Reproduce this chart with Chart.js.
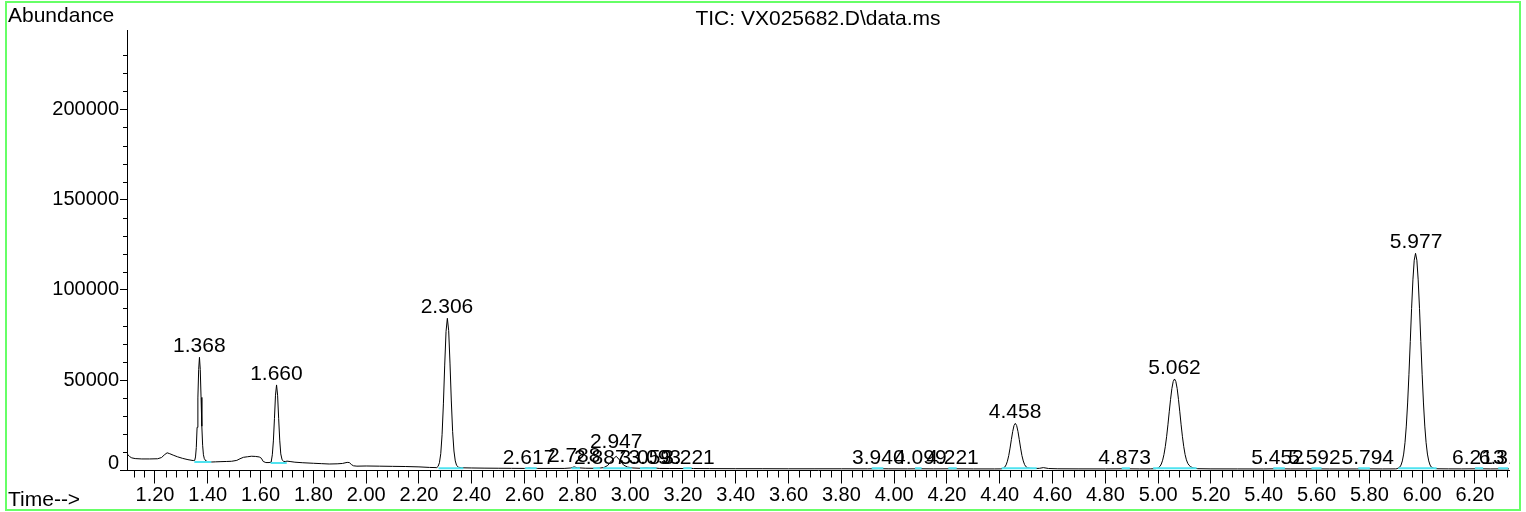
<!DOCTYPE html>
<html><head><meta charset="utf-8">
<script src="https://cdn.jsdelivr.net/npm/chart.js@4"></script>
<style>html,body{margin:0;padding:0;background:#fff;overflow:hidden}canvas{display:block}</style>
</head><body>
<canvas id="c" width="1526" height="512"></canvas>
<script>
const chartTitle = 'TIC: VX025682.D\\data.ms';
const yAxisTitle = 'Abundance';
const xAxisTitle = 'Time-->';

const timeMin = [
1.094,1.098,1.104,1.112,1.125,1.150,1.180,1.210,1.225,1.235,1.246,1.256,1.269,1.285,1.305,1.325,1.345,
1.3505,1.3535,1.3565,1.3595,1.3625,1.3655,1.3685,1.3715,1.3745,1.3775,1.3805,1.3835,1.387,1.393,1.400,
1.415,1.430,1.450,1.470,1.490,1.510,1.522,1.535,1.550,1.565,1.580,1.595,1.603,1.610,1.620,1.632,1.640,
1.6445,1.6485,1.6525,1.6565,1.6605,1.6645,1.6685,1.6725,1.6765,1.6815,1.688,1.695,
1.700,1.715,1.730,1.760,1.800,1.830,1.860,1.890,1.910,1.928,1.936,1.945,1.952,1.965,2.000,2.050,2.100,2.150,2.200,2.240,
2.2675,2.2725,2.2775,2.2825,2.2875,2.2925,2.2975,2.3025,2.3075,2.3125,2.3175,2.3225,2.3275,2.3325,2.3375,2.3425,2.350,2.360,
2.400,2.450,2.500,2.550,2.600,2.610,2.617,2.625,2.650,2.700,2.750,2.775,2.788,2.800,2.830,2.870,2.887,2.900,2.915,2.930,2.947,2.960,2.975,2.990,
3.010,3.040,3.059,3.075,3.093,3.110,3.150,3.200,3.221,3.240,3.300,3.400,3.500,3.600,3.700,3.800,3.900,3.940,3.980,4.050,4.099,4.150,4.221,4.300,4.380,
4.404,4.409,4.414,4.419,4.424,4.429,4.434,4.439,4.444,4.449,4.454,4.459,4.464,4.469,4.474,4.479,4.484,4.489,4.494,4.499,4.505,4.515,4.530,
4.550,4.565,4.585,4.620,4.700,4.800,4.873,4.930,4.970,
4.990,5.000,5.007,5.012,5.017,5.022,5.027,5.032,5.037,5.042,5.047,5.052,5.057,5.062,5.067,5.072,5.077,5.082,5.087,5.092,5.097,5.102,5.107,5.112,5.117,5.122,5.132,5.150,
5.200,5.300,5.400,5.452,5.500,5.592,5.650,5.750,5.794,5.850,5.900,
5.905,5.915,5.920,5.925,5.930,5.935,5.940,5.945,5.950,5.955,5.960,5.965,5.970,5.975,5.980,5.985,5.990,5.995,6.000,6.005,6.010,6.015,6.020,6.025,6.030,6.035,6.045,6.060,
6.100,6.150,6.213,6.260,6.314,6.329
];
const abundance = [
9500,8600,7700,7000,6600,6400,6400,6500,7200,8600,9800,9300,8500,7600,6700,6000,5500,
5600,7500,12800,23900,40200,56000,62700,56000,40500,24500,14000,8700,6500,5300,4900,
4700,4800,4900,5000,5100,5600,6500,7300,7600,7900,7800,7500,6800,5000,4400,4400,4600,
8700,16400,28700,41700,47400,41700,28700,16800,9200,5900,5000,5000,
5200,4900,4600,4300,4000,3800,3600,3700,3900,4500,4400,3200,2600,2400,2500,2400,2300,2200,2000,1700,
1600,2300,4300,9300,19800,36900,58400,77000,84300,77500,59500,38500,21500,10800,5300,2800,1800,1500,
1400,1300,1250,1200,1150,1200,1350,1200,1150,1150,1150,1400,2000,1500,1250,1200,1400,1600,2800,5500,7900,5800,3000,1900,
1400,1200,1400,1250,1400,1150,1100,1100,1250,1100,1050,1000,1000,950,950,950,920,1000,920,900,950,900,950,880,870,
900,1000,1280,1900,3100,5150,8260,12400,17100,21600,24900,26100,24900,21600,17100,12400,8260,5300,3300,2100,1500,1200,1100,
1200,1600,1100,950,900,880,950,870,900,
1000,1300,2300,3600,5700,8850,13200,18700,25300,32500,39400,45400,49300,50700,49300,45400,39400,32500,25300,18700,13200,8850,5900,4000,2900,2200,1400,1000,
900,870,850,950,860,900,850,850,920,860,900,
1000,1850,3000,5300,9100,15400,24600,37400,53300,71400,89700,105600,116500,120300,116500,105600,89700,71400,53300,37400,24600,15400,9100,5300,3000,1850,1100,950,
900,880,950,870,920,880
];

const peakTimes   = [1.368,1.660,2.306,2.617,2.788,2.887,2.947,3.059,3.093,3.221,3.940,4.099,4.221,4.458,4.873,5.062,5.452,5.592,5.794,5.977,6.213,6.314];
const peakLabels  = ['1.368','1.660','2.306','2.617','2.788','2.887','2.947','3.059','3.093','3.221','3.940','4.099','4.221','4.458','4.873','5.062','5.452','5.592','5.794','5.977','6.213','6.314'];
const peakHeights = [62700,47400,84300,1000,1900,700,9500,900,900,1000,1000,1000,1000,26100,1000,50700,1100,1100,1100,120300,1100,1100];

const baseStart = [1.349,1.638,2.274,2.602,2.778,2.860,2.898,3.037,3.201,3.915,4.079,4.205,4.407,4.862,4.981,5.436,5.581,5.758,5.910,6.200,6.288];
const baseEnd   = [1.413,1.699,2.368,2.646,2.810,2.886,3.006,3.100,3.233,3.959,4.104,4.237,4.540,4.893,5.146,5.480,5.619,5.802,6.055,6.231,6.326];
const baseLevel = [4700,4150,1300,1200,1200,1200,1200,1200,1200,1200,1200,1200,1200,1200,1200,1200,1200,1200,1200,1200,1200];

const xTickValues = [1.20,1.40,1.60,1.80,2.00,2.20,2.40,2.60,2.80,3.00,3.20,3.40,3.60,3.80,4.00,4.20,4.40,4.60,4.80,5.00,5.20,5.40,5.60,5.80,6.00,6.20];
const yTickValues = [0,50000,100000,150000,200000];
const xMinorStep = 0.04, xMinorFirst = 1.12, xMinorLast = 6.32;
const yMinorStep = 10000, yMinorLast = 230000;

const FONT = '"Liberation Sans", Arial, Helvetica, sans-serif';

const xMinor = [];
for (let k = 0; xMinorFirst + k * xMinorStep <= xMinorLast + 1e-9; k++) xMinor.push(+(xMinorFirst + k * xMinorStep).toFixed(2));
const yMinor = [];
for (let v = yMinorStep; v <= yMinorLast; v += yMinorStep) if (v % 50000 !== 0) yMinor.push(v);

const deco = {
  id: 'deco',
  afterDraw(chart) {
    const {ctx, chartArea: a, scales: {x, y}} = chart;
    ctx.save();
    ctx.strokeStyle = '#000'; ctx.lineWidth = 1;
    ctx.beginPath();
    xMinor.forEach(t => {
      if (xTickValues.some(m => Math.abs(m - t) < 1e-6)) return;
      const px = Math.round(x.getPixelForValue(t)) + 0.5;
      ctx.moveTo(px, a.bottom); ctx.lineTo(px, a.bottom + 7);
    });
    yMinor.forEach(v => {
      const py = Math.round(y.getPixelForValue(v)) + 0.5;
      ctx.moveTo(a.left - 4, py); ctx.lineTo(a.left, py);
    });
    ctx.stroke();

    ctx.save();
    ctx.beginPath(); ctx.rect(0, 0, a.right + 1, a.bottom); ctx.clip();
    ctx.font = '21px ' + FONT; ctx.fillStyle = '#000';
    ctx.textAlign = 'center'; ctx.textBaseline = 'alphabetic';
    peakTimes.forEach((t, i) => {
      ctx.fillText(peakLabels[i], x.getPixelForValue(t), y.getPixelForValue(peakHeights[i]) - 5);
    });
    ctx.restore();

    ctx.font = '21px ' + FONT; ctx.fillStyle = '#000'; ctx.textBaseline = 'alphabetic';
    ctx.textAlign = 'left';
    ctx.fillText(yAxisTitle, 8, 22);
    ctx.fillText(xAxisTitle, 8, 506);
    ctx.textAlign = 'center';
    ctx.fillText(chartTitle, (a.left + a.right) / 2, 25);

    ctx.strokeStyle = '#66ff66'; ctx.lineWidth = 2;
    ctx.strokeRect(6, 2, 1514, 508);
    ctx.restore();
  }
};

const traceData = timeMin.map((t, i) => ({x: t, y: abundance[i]}));
const datasets = [{
  data: traceData, borderColor: '#000', borderWidth: 1, pointRadius: 0, tension: 0, order: 2, fill: false
}];
baseStart.forEach((s, i) => {
  datasets.push({
    data: [{x: s, y: baseLevel[i]}, {x: baseEnd[i], y: baseLevel[i]}],
    borderColor: '#4fe3f0', borderWidth: 2, pointRadius: 0, tension: 0, order: 1, fill: false
  });
});

new Chart(document.getElementById('c'), {
  type: 'line',
  data: {datasets},
  options: {
    responsive: false, animation: false, devicePixelRatio: 1,
    layout: {padding: {top: 30, right: 17, left: 0, bottom: 0}},
    plugins: {legend: {display: false}, tooltip: {enabled: false}, title: {display: false}},
    scales: {
      x: {
        type: 'linear', min: 1.094, max: 6.329,
        afterBuildTicks: s => { s.ticks = xTickValues.map(v => ({value: v})); },
        afterFit: s => { s.height = 41.5; },
        grid: {display: true, drawOnChartArea: false, drawTicks: true, tickLength: 13, tickColor: '#000', tickWidth: 1},
        border: {display: true, color: '#000', width: 1},
        ticks: {font: {family: FONT, size: 20}, color: '#000', padding: 0, maxRotation: 0, minRotation: 0, autoSkip: false,
                callback: v => Number(v).toFixed(2)}
      },
      y: {
        type: 'linear', min: 0, max: 244000,
        afterBuildTicks: s => { s.ticks = yTickValues.map(v => ({value: v})); },
        afterFit: s => { s.width = 127; },
        grid: {display: true, drawOnChartArea: false, drawTicks: true, tickLength: 7, tickColor: '#000', tickWidth: 1},
        border: {display: true, color: '#000', width: 1},
        ticks: {font: {family: FONT, size: 20, lineHeight: 0.7}, color: '#000', padding: 1, autoSkip: false,
                callback: v => (v === 0 ? ['0', ''] : String(v))}
      }
    }
  },
  plugins: [deco]
});
</script>
</body></html>
